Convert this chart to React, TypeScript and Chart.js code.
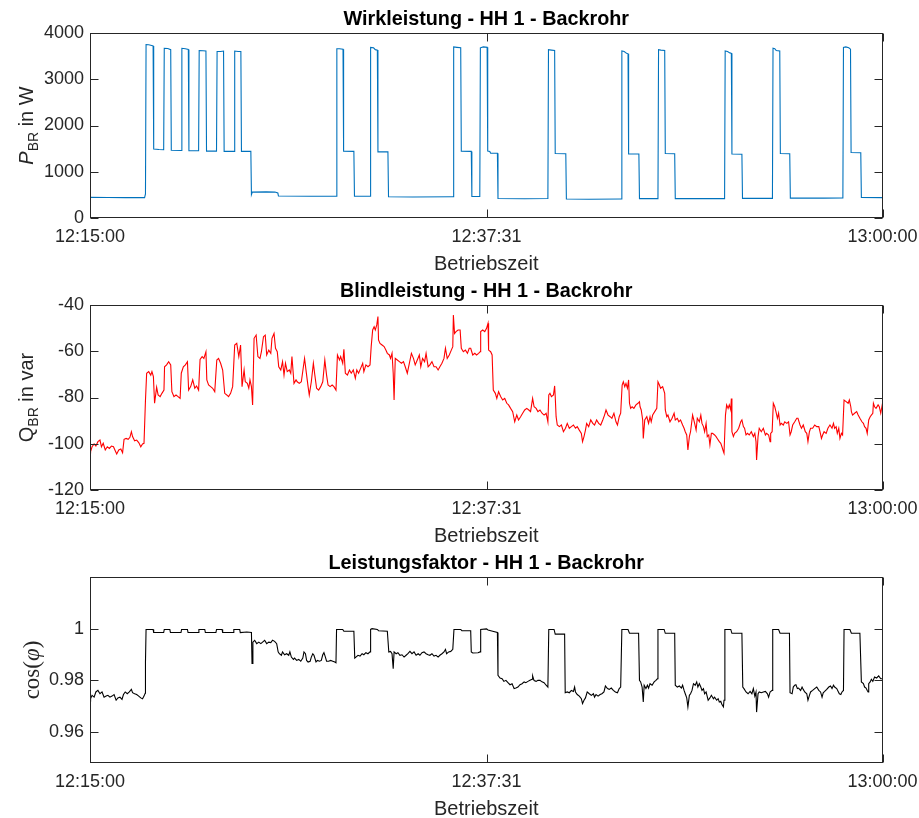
import React, { useEffect, useRef } from "react";
import { Chart, registerables } from "chart.js";

Chart.register(...registerables);

// Time axis: seconds after 12:15:00
const timeTickValues = [0, 1351, 2700];
const timeTickLabels = ["12:15:00", "12:37:31", "13:00:00"];
const xAxisLabel = "Betriebszeit";

const titles = [
  "Wirkleistung - HH 1 - Backrohr",
  "Blindleistung - HH 1 - Backrohr",
  "Leistungsfaktor - HH 1 - Backrohr",
];

const wirkleistungTicks = [0, 1000, 2000, 3000, 4000];
const blindleistungTicks = [-120, -100, -80, -60, -40];
const leistungsfaktorTicks = [0.96, 0.98, 1];

// [seconds, W]
const wirkleistung: [number, number][] = [
  [0, 445], [60, 443], [120, 440], [186, 440], [189, 520], [191, 3750], [200, 3745], [210, 3730], [215, 3720],
  [217, 1490], [235, 1480], [251, 1475], [253, 3670], [265, 3665], [275, 3640], [277, 1465], [311, 1460],
  [313, 3670], [325, 3660], [335, 3645], [337, 1455], [370, 1455], [372, 3620], [385, 3615], [395, 3610],
  [397, 1445], [431, 1445], [433, 3600], [445, 3600], [455, 3610], [457, 1440], [491, 1440], [493, 3610],
  [505, 3600], [514, 3600], [516, 1440], [548, 1440], [550, 505], [553, 560], [600, 565], [630, 560],
  [640, 540], [642, 475], [750, 470], [839, 470], [841, 3660], [850, 3660], [862, 3650], [864, 1445],
  [899, 1440], [901, 470], [954, 470], [956, 3690], [966, 3680], [972, 3640], [979, 3630], [981, 1430],
  [1015, 1430], [1017, 460], [1100, 455], [1237, 460], [1239, 3700], [1250, 3690], [1263, 3680],
  [1265, 1445], [1299, 1440], [1301, 465], [1328, 465], [1330, 3680], [1340, 3700], [1353, 3690],
  [1355, 1450], [1362, 1440], [1365, 1400], [1388, 1400], [1390, 420], [1480, 415], [1560, 420],
  [1562, 3640], [1572, 3630], [1583, 3620], [1585, 1395], [1621, 1390], [1623, 410], [1700, 405],
  [1810, 410], [1812, 3610], [1820, 3600], [1828, 3560], [1833, 3550], [1835, 1385], [1870, 1385],
  [1872, 420], [1935, 420], [1937, 3640], [1945, 3630], [1958, 3620], [1960, 1395], [1992, 1390],
  [1994, 420], [2162, 420], [2164, 3610], [2172, 3600], [2180, 3570], [2185, 3560], [2187, 1385],
  [2221, 1380], [2223, 425], [2325, 425], [2327, 3670], [2333, 3660], [2338, 3620], [2350, 3610],
  [2352, 1395], [2384, 1390], [2386, 430], [2500, 430], [2565, 432], [2567, 3690], [2575, 3700],
  [2585, 3680], [2591, 3650], [2593, 1415], [2626, 1410], [2628, 445], [2700, 440],
];

// [seconds, var]
const blindleistung: [number, number][] = [
  [0, -103], [2, -103.4], [7, -101.3], [14, -100.1], [20, -101.0], [27, -99.1], [34, -98.4], [39, -101.3],
  [45, -99.8], [52, -102.7], [59, -101.3], [66, -102.0], [73, -101.0], [80, -101.3], [86, -103.0],
  [91, -104.4], [98, -102.7], [105, -102.3], [111, -103.9], [116, -98.1], [123, -97.7], [130, -98.1],
  [136, -97.2], [141, -94.8], [145, -96.9], [152, -98.7], [159, -98.4], [166, -99.5], [173, -101.3],
  [179, -100.1], [184, -99.8], [189, -81.1], [193, -69.5], [200, -68.8], [207, -70.3], [211, -68.8],
  [216, -71.0], [220, -82.5], [227, -75.6], [232, -78.9], [239, -79.6], [245, -78.2], [252, -76.8],
  [254, -66.7], [261, -65.9], [268, -64.5], [275, -65.9], [279, -77.5], [286, -79.6], [293, -78.9],
  [300, -79.6], [307, -80.4], [311, -69.5], [318, -66.7], [325, -65.9], [332, -64.5], [336, -76.8],
  [343, -75.3], [350, -72.4], [357, -76.0], [363, -75.0], [370, -76.8], [375, -63.5], [382, -62.3],
  [388, -63.1], [395, -60.2], [398, -72.4], [404, -74.6], [411, -75.3], [418, -76.0], [425, -77.5],
  [432, -63.8], [438, -63.1], [445, -65.2], [452, -68.1], [459, -78.2], [466, -78.9], [472, -79.6],
  [479, -78.2], [486, -75.3], [493, -57.3], [500, -56.6], [507, -62.3], [513, -57.3], [518, -75.3],
  [525, -68.1], [529, -73.2], [536, -73.9], [541, -76.0], [545, -72.4], [550, -75.3], [554, -83.2],
  [559, -54.4], [566, -53.0], [572, -62.3], [579, -63.1], [584, -60.2], [591, -53.7], [597, -53.0],
  [602, -61.6], [609, -59.5], [616, -60.9], [620, -54.4], [627, -52.3], [632, -58.7], [638, -60.2],
  [643, -66.7], [650, -68.1], [656, -64.5], [661, -70.3], [666, -65.2], [672, -68.8], [679, -68.1],
  [684, -69.5], [688, -62.3], [695, -73.9], [702, -72.4], [706, -73.2], [713, -73.9], [720, -73.2],
  [727, -66.7], [731, -63.1], [738, -70.3], [743, -75.3], [747, -78.9], [754, -73.2], [761, -65.2],
  [766, -70.3], [772, -76.0], [779, -76.8], [786, -75.3], [793, -73.2], [800, -63.8], [806, -70.3],
  [811, -74.6], [818, -75.3], [825, -74.6], [831, -75.3], [838, -76.8], [843, -61.6], [850, -63.8],
  [854, -62.3], [861, -65.2], [865, -59.2], [870, -69.5], [877, -70.3], [884, -68.1], [890, -69.5],
  [897, -68.1], [904, -71.7], [909, -68.1], [915, -69.5], [922, -67.4], [929, -65.2], [933, -68.8],
  [940, -65.9], [947, -66.7], [954, -65.9], [958, -58.0], [963, -50.8], [968, -49.4], [972, -50.8],
  [977, -48.6], [981, -45.0], [983, -55.1], [988, -56.6], [995, -57.3], [1002, -58.0], [1008, -59.5],
  [1013, -60.9], [1020, -61.6], [1024, -63.1], [1029, -60.9], [1033, -69.5], [1036, -81.1], [1040, -63.1],
  [1047, -63.8], [1054, -64.5], [1061, -65.2], [1068, -64.5], [1074, -66.7], [1081, -69.5], [1088, -65.2],
  [1095, -60.9], [1102, -63.1], [1108, -65.9], [1115, -63.8], [1122, -61.6], [1127, -66.7], [1133, -63.1],
  [1140, -64.5], [1145, -60.9], [1152, -66.7], [1158, -65.9], [1165, -64.5], [1172, -66.7], [1179, -66.7],
  [1186, -68.1], [1192, -66.7], [1199, -65.2], [1206, -63.1], [1211, -58.7], [1217, -63.1], [1224, -61.6],
  [1231, -59.5], [1236, -58.0], [1238, -44.3], [1242, -52.3], [1247, -51.5], [1254, -50.8], [1261, -50.8],
  [1265, -58.7], [1272, -60.2], [1279, -59.5], [1286, -60.9], [1292, -58.7], [1297, -58.7], [1304, -61.6],
  [1311, -60.9], [1317, -61.6], [1324, -60.9], [1329, -60.2], [1331, -51.5], [1338, -50.8], [1345, -51.5],
  [1351, -50.1], [1356, -47.9], [1358, -59.5], [1365, -60.2], [1370, -61.6], [1374, -76.8], [1381, -78.2],
  [1386, -80.4], [1392, -77.5], [1399, -79.6], [1406, -81.1], [1413, -80.4], [1420, -82.5], [1426, -83.2],
  [1433, -84.7], [1440, -86.1], [1447, -90.5], [1454, -87.6], [1460, -89.7], [1467, -88.3], [1474, -86.8],
  [1481, -85.4], [1488, -84.7], [1495, -85.4], [1501, -86.1], [1508, -80.4], [1513, -84.0], [1520, -84.7],
  [1526, -86.1], [1533, -85.4], [1540, -86.8], [1547, -87.6], [1554, -86.8], [1560, -90.5], [1563, -78.9],
  [1567, -78.2], [1572, -79.6], [1579, -78.9], [1583, -75.0], [1585, -79.6], [1588, -88.3], [1592, -91.9],
  [1599, -92.6], [1606, -91.9], [1613, -94.8], [1620, -93.3], [1626, -91.2], [1633, -93.3], [1640, -92.6],
  [1647, -91.9], [1654, -93.3], [1660, -92.6], [1667, -94.1], [1674, -95.5], [1678, -99.1], [1683, -96.9],
  [1688, -94.1], [1692, -91.2], [1699, -92.6], [1706, -89.7], [1713, -91.2], [1719, -91.9], [1726, -89.7],
  [1733, -91.2], [1740, -91.9], [1747, -89.7], [1753, -87.6], [1758, -85.4], [1765, -87.6], [1772, -88.3],
  [1778, -89.0], [1785, -86.8], [1792, -90.5], [1797, -91.9], [1803, -88.3], [1808, -86.8], [1813, -74.6],
  [1817, -73.2], [1822, -75.3], [1826, -73.9], [1831, -76.0], [1835, -72.4], [1838, -82.5], [1842, -84.7],
  [1847, -84.0], [1853, -84.7], [1860, -83.2], [1867, -82.5], [1872, -81.8], [1874, -84.0], [1878, -85.4],
  [1883, -89.7], [1885, -97.7], [1890, -89.7], [1897, -88.3], [1903, -91.2], [1908, -88.3], [1912, -90.5],
  [1917, -87.6], [1924, -86.1], [1931, -84.7], [1935, -73.2], [1940, -74.6], [1944, -76.0], [1951, -75.3],
  [1958, -78.2], [1960, -85.4], [1965, -88.3], [1969, -87.6], [1976, -90.5], [1983, -89.0], [1990, -86.8],
  [1994, -89.7], [2001, -89.0], [2006, -90.5], [2012, -89.7], [2019, -91.9], [2024, -93.3], [2028, -94.8],
  [2033, -96.2], [2037, -102.7], [2042, -96.9], [2046, -94.8], [2053, -87.6], [2060, -91.2], [2065, -94.1],
  [2069, -89.0], [2076, -90.5], [2081, -87.6], [2085, -91.2], [2090, -92.6], [2094, -94.8], [2099, -91.2],
  [2103, -96.9], [2108, -96.2], [2112, -100.5], [2117, -95.5], [2121, -95.5], [2128, -96.2], [2133, -96.9],
  [2137, -97.7], [2144, -99.1], [2149, -99.8], [2153, -101.3], [2158, -103.4], [2160, -104.1], [2165, -87.6],
  [2169, -83.2], [2174, -84.7], [2178, -83.2], [2183, -85.4], [2185, -80.4], [2187, -94.8], [2192, -96.9],
  [2196, -95.5], [2203, -94.8], [2210, -93.3], [2217, -90.5], [2221, -89.7], [2226, -92.6], [2230, -93.3],
  [2235, -96.2], [2240, -95.5], [2246, -96.2], [2253, -94.8], [2260, -96.9], [2265, -95.5], [2269, -99.1],
  [2271, -107.0], [2276, -96.9], [2280, -93.3], [2287, -94.8], [2294, -93.3], [2301, -96.2], [2305, -95.5],
  [2312, -96.2], [2317, -99.1], [2319, -95.5], [2324, -94.8], [2328, -82.5], [2333, -84.0], [2337, -86.1],
  [2342, -89.0], [2346, -86.8], [2351, -91.9], [2355, -91.2], [2362, -91.9], [2367, -90.5], [2374, -91.2],
  [2380, -90.5], [2385, -96.2], [2389, -94.8], [2394, -91.9], [2401, -90.5], [2408, -89.0], [2412, -89.0],
  [2419, -91.9], [2424, -93.3], [2430, -91.9], [2437, -94.8], [2442, -95.5], [2446, -99.1], [2451, -94.8],
  [2455, -93.3], [2462, -93.3], [2469, -91.9], [2476, -92.6], [2483, -92.6], [2487, -94.8], [2492, -97.7],
  [2496, -96.2], [2501, -94.8], [2508, -95.5], [2514, -93.3], [2521, -91.9], [2528, -93.3], [2533, -91.2],
  [2537, -93.3], [2542, -92.6], [2546, -95.5], [2551, -93.3], [2555, -97.7], [2560, -95.5], [2564, -96.2],
  [2569, -81.1], [2576, -81.8], [2583, -82.5], [2587, -81.1], [2592, -84.0], [2594, -86.1], [2598, -87.6],
  [2605, -86.8], [2612, -86.1], [2617, -87.6], [2623, -89.0], [2630, -90.5], [2635, -91.2], [2639, -92.6],
  [2644, -93.3], [2648, -95.5], [2653, -89.7], [2658, -88.3], [2662, -87.6], [2667, -86.8], [2669, -82.5],
  [2673, -84.0], [2678, -84.7], [2685, -83.2], [2689, -84.0], [2694, -86.8], [2700, -82.5],
];

// [seconds, cos(phi)]
const leistungsfaktor: [number, number][] = [
  [0, 0.9735], [2, 0.9729], [7, 0.9742], [14, 0.9735], [20, 0.9755], [27, 0.9761], [34, 0.9748],
  [41, 0.9755], [48, 0.9735], [55, 0.9739], [61, 0.9742], [68, 0.9735], [75, 0.9739], [82, 0.9745],
  [89, 0.9723], [95, 0.9732], [102, 0.9735], [109, 0.9726], [114, 0.9745], [120, 0.9755], [127, 0.9748],
  [134, 0.9755], [141, 0.9765], [145, 0.9752], [152, 0.9748], [159, 0.9745], [166, 0.9739], [173, 0.9732],
  [179, 0.9729], [184, 0.9739], [188, 0.975], [189, 0.9871], [191, 0.9997], [215, 0.9997], [217, 0.9985],
  [251, 0.9985], [253, 0.9997], [272, 0.9997], [274, 0.9985], [310, 0.9985], [312, 0.9997], [332, 0.9997],
  [334, 0.9985], [369, 0.9985], [371, 0.9997], [391, 0.9997], [393, 0.9985], [429, 0.9985], [431, 0.9997],
  [450, 0.9997], [452, 0.9985], [488, 0.9985], [490, 0.9997], [510, 0.9997], [512, 0.9985], [534, 0.9987],
  [550, 0.9985], [552, 0.9865], [555, 0.9948], [561, 0.9955], [568, 0.9942], [575, 0.9948], [582, 0.9942],
  [588, 0.9948], [595, 0.9955], [602, 0.9942], [609, 0.9948], [616, 0.9946], [622, 0.9955], [629, 0.9951],
  [636, 0.9942], [641, 0.991], [645, 0.9903], [652, 0.9897], [656, 0.991], [663, 0.9899], [670, 0.9903],
  [677, 0.9897], [681, 0.991], [686, 0.989], [693, 0.9881], [697, 0.9886], [704, 0.9877], [711, 0.9881],
  [718, 0.9874], [725, 0.9886], [729, 0.991], [734, 0.9903], [738, 0.9877], [743, 0.9871], [750, 0.9874],
  [754, 0.989], [759, 0.9903], [763, 0.9897], [770, 0.9871], [775, 0.9877], [782, 0.9874], [788, 0.9877],
  [793, 0.9899], [797, 0.9907], [802, 0.989], [806, 0.9874], [813, 0.9874], [820, 0.9877], [827, 0.9874],
  [834, 0.9871], [838, 0.9868], [840, 0.9997], [861, 0.9997], [865, 0.999], [899, 0.999], [902, 0.9886],
  [906, 0.989], [913, 0.9897], [920, 0.9894], [927, 0.9903], [933, 0.9899], [940, 0.9907], [947, 0.9903],
  [954, 0.991], [956, 0.9997], [961, 1.0], [979, 0.9997], [983, 0.9992], [1013, 0.999], [1018, 0.991],
  [1024, 0.9912], [1029, 0.9903], [1033, 0.9845], [1036, 0.991], [1043, 0.9903], [1049, 0.9907],
  [1056, 0.9897], [1063, 0.9899], [1070, 0.989], [1077, 0.9897], [1083, 0.9903], [1090, 0.9912],
  [1097, 0.9903], [1104, 0.991], [1111, 0.9897], [1118, 0.9903], [1124, 0.9897], [1131, 0.9907],
  [1138, 0.991], [1145, 0.9903], [1152, 0.9899], [1158, 0.9897], [1165, 0.9903], [1172, 0.9894],
  [1179, 0.9897], [1186, 0.989], [1192, 0.9897], [1199, 0.9903], [1206, 0.991], [1211, 0.992],
  [1215, 0.9903], [1222, 0.991], [1229, 0.9912], [1236, 0.992], [1240, 0.9997], [1263, 0.9997],
  [1267, 0.9992], [1297, 0.9992], [1299, 0.991], [1304, 0.9906], [1322, 0.9907], [1329, 0.991],
  [1331, 0.9997], [1351, 0.9999], [1356, 0.9995], [1372, 0.999], [1388, 0.9985], [1390, 0.9819],
  [1397, 0.9809], [1404, 0.9806], [1410, 0.9796], [1417, 0.98], [1424, 0.9791], [1431, 0.9783],
  [1438, 0.9787], [1445, 0.9768], [1451, 0.977], [1458, 0.9774], [1465, 0.9783], [1472, 0.9787],
  [1479, 0.9794], [1485, 0.9791], [1492, 0.9796], [1499, 0.98], [1506, 0.9804], [1508, 0.9817],
  [1513, 0.9799], [1520, 0.9796], [1526, 0.98], [1533, 0.98], [1540, 0.9794], [1547, 0.9791],
  [1554, 0.9781], [1560, 0.9774], [1563, 0.9997], [1581, 0.9997], [1585, 0.9979], [1617, 0.9979],
  [1619, 0.9752], [1626, 0.9755], [1633, 0.9752], [1640, 0.9761], [1647, 0.9757], [1651, 0.9774],
  [1654, 0.9755], [1660, 0.9745], [1667, 0.9739], [1674, 0.9729], [1678, 0.971], [1683, 0.9723],
  [1688, 0.9732], [1694, 0.9755], [1701, 0.9748], [1708, 0.9742], [1715, 0.9748], [1719, 0.9735],
  [1724, 0.9745], [1731, 0.9739], [1738, 0.9745], [1744, 0.9748], [1751, 0.9755], [1756, 0.9778],
  [1763, 0.9768], [1769, 0.9765], [1776, 0.977], [1783, 0.9761], [1790, 0.9755], [1797, 0.9752],
  [1803, 0.9768], [1808, 0.9774], [1812, 0.9997], [1833, 0.9997], [1838, 0.9982], [1869, 0.9982],
  [1872, 0.98], [1876, 0.9794], [1881, 0.9774], [1885, 0.9716], [1888, 0.9781], [1894, 0.9768],
  [1899, 0.9781], [1903, 0.977], [1908, 0.9787], [1915, 0.9781], [1922, 0.9794], [1928, 0.98],
  [1933, 0.9806], [1935, 0.9997], [1956, 0.9997], [1960, 0.9982], [1992, 0.9982], [1994, 0.9781],
  [2001, 0.9774], [2008, 0.9778], [2015, 0.977], [2019, 0.9781], [2024, 0.9761], [2028, 0.9748],
  [2033, 0.9732], [2037, 0.9697], [2042, 0.9742], [2046, 0.9748], [2051, 0.9761], [2056, 0.9787],
  [2062, 0.9781], [2067, 0.9794], [2071, 0.9774], [2076, 0.9787], [2081, 0.9774], [2085, 0.9761],
  [2090, 0.9768], [2094, 0.9748], [2099, 0.9755], [2106, 0.9723], [2112, 0.9732], [2117, 0.9742],
  [2124, 0.9729], [2128, 0.9735], [2135, 0.9723], [2140, 0.9729], [2144, 0.9716], [2149, 0.9719],
  [2153, 0.9706], [2158, 0.9697], [2160, 0.9723], [2163, 0.9997], [2183, 0.9997], [2187, 0.9982],
  [2221, 0.9982], [2224, 0.9774], [2228, 0.9768], [2235, 0.9755], [2242, 0.9748], [2249, 0.9757],
  [2255, 0.9748], [2260, 0.9768], [2265, 0.9739], [2269, 0.9755], [2271, 0.9677], [2276, 0.9748],
  [2280, 0.9755], [2287, 0.9752], [2294, 0.9755], [2301, 0.9757], [2308, 0.9748], [2312, 0.9735],
  [2317, 0.9755], [2324, 0.9761], [2326, 0.9997], [2346, 0.9997], [2351, 0.9982], [2383, 0.9982],
  [2385, 0.9752], [2392, 0.9748], [2396, 0.9774], [2401, 0.9781], [2405, 0.9783], [2410, 0.9768],
  [2414, 0.977], [2421, 0.9761], [2426, 0.9774], [2430, 0.9765], [2435, 0.9755], [2442, 0.9748],
  [2446, 0.9723], [2451, 0.9742], [2455, 0.9755], [2462, 0.9761], [2469, 0.9768], [2476, 0.9774],
  [2483, 0.9761], [2489, 0.9755], [2494, 0.9735], [2498, 0.9752], [2503, 0.9757], [2510, 0.9765],
  [2517, 0.9774], [2523, 0.9778], [2528, 0.9768], [2533, 0.9781], [2537, 0.9774], [2544, 0.9768],
  [2549, 0.9757], [2553, 0.9748], [2558, 0.9745], [2562, 0.9755], [2567, 0.9761], [2569, 0.9997],
  [2589, 0.9997], [2594, 0.9982], [2623, 0.9982], [2628, 0.9794], [2635, 0.9787], [2639, 0.9774],
  [2644, 0.977], [2648, 0.9761], [2651, 0.9755], [2653, 0.9787], [2658, 0.9794], [2662, 0.9804],
  [2667, 0.9796], [2673, 0.9813], [2680, 0.9809], [2687, 0.9817], [2694, 0.9806], [2700, 0.9806],
];

const PAGE_W = 919;
const CANVAS_W = 940;
const CANVAS_H = 273;
const AXIS_COLOR = "#262626";
const SANS = '"Liberation Sans", Arial, sans-serif';
const SERIF = '"Liberation Serif", "Times New Roman", serif';

type Seg = { text: string; font: string; dy?: number };

type PanelProps = {
  top: number;
  padTop: number;
  data: [number, number][];
  color: string;
  min: number;
  max: number;
  ticks: number[];
  title: string;
  yLabel: Seg[];
  yLabelX: number;
};

function Panel(props: PanelProps) {
  const ref = useRef<HTMLCanvasElement | null>(null);
  useEffect(() => {
    const canvas = ref.current;
    if (!canvas) return;
    const { padTop, data, color, min, max, ticks, title, yLabel, yLabelX } = props;
    const decor = {
      id: "decor",
      afterDraw(chart: any) {
        const { ctx, chartArea } = chart;
        const xs = chart.scales.x;
        const ys = chart.scales.y;
        const L = Math.round(chartArea.left) + 0.5;
        const R = Math.round(chartArea.right) - 0.5;
        const T = Math.round(chartArea.top) + 0.5;
        const B = Math.round(chartArea.bottom) - 0.5;
        ctx.save();
        ctx.strokeStyle = AXIS_COLOR;
        ctx.lineWidth = 1;
        ctx.strokeRect(L, T, R - L, B - T);
        const tl = 8;
        ctx.beginPath();
        timeTickValues.forEach((v) => {
          const p = Math.round(xs.getPixelForValue(v)) + 0.5;
          ctx.moveTo(p, B);
          ctx.lineTo(p, B - tl);
          ctx.moveTo(p, T);
          ctx.lineTo(p, T + tl);
        });
        ticks.forEach((v) => {
          const p = Math.round(ys.getPixelForValue(v)) + 0.5;
          ctx.moveTo(L, p);
          ctx.lineTo(L + tl, p);
          ctx.moveTo(R, p);
          ctx.lineTo(R - tl, p);
        });
        ctx.stroke();

        const cx = (chartArea.left + chartArea.right) / 2;
        ctx.textAlign = "center";
        ctx.textBaseline = "alphabetic";
        ctx.fillStyle = "#000000";
        ctx.font = `bold 19.8px ${SANS}`;
        ctx.fillText(title, cx, chartArea.top - 8);

        ctx.fillStyle = AXIS_COLOR;
        ctx.font = `20px ${SANS}`;
        ctx.fillText(xAxisLabel, cx, chartArea.bottom + 51.5);

        ctx.textAlign = "left";
        let total = 0;
        yLabel.forEach((s) => {
          ctx.font = s.font;
          total += ctx.measureText(s.text).width;
        });
        ctx.translate(yLabelX, (chartArea.top + chartArea.bottom) / 2);
        ctx.rotate(-Math.PI / 2);
        let x = -total / 2;
        yLabel.forEach((s) => {
          ctx.font = s.font;
          ctx.fillText(s.text, x, s.dy || 0);
          x += ctx.measureText(s.text).width;
        });
        ctx.restore();
      },
    };

    const chart = new Chart(canvas, {
      type: "line",
      data: {
        datasets: [
          {
            data: data.map(([t, v]) => ({ x: t, y: v })),
            borderColor: color,
            borderWidth: 1.1,
            pointRadius: 0,
            tension: 0,
            fill: false,
          },
        ],
      },
      options: {
        responsive: false,
        animation: false,
        devicePixelRatio: 1,
        events: [],
        layout: { padding: { top: padTop, left: 0, right: CANVAS_W - 882.5, bottom: 0 } },
        plugins: {
          legend: { display: false },
          tooltip: { enabled: false },
          title: { display: false },
        },
        scales: {
          x: {
            type: "linear",
            min: 0,
            max: 2700,
            grid: { display: false, drawTicks: false },
            border: { display: false },
            afterBuildTicks: (s: any) => {
              s.ticks = timeTickValues.map((v) => ({ value: v }));
            },
            afterFit: (s: any) => {
              s.height = CANVAS_H - 218;
            },
            ticks: {
              autoSkip: false,
              maxRotation: 0,
              minRotation: 0,
              padding: 8,
              color: AXIS_COLOR,
              font: { family: SANS, size: 18 },
              callback: (_v: any, i: number) => timeTickLabels[i],
            },
          },
          y: {
            type: "linear",
            min,
            max,
            grid: { display: false, drawTicks: false },
            border: { display: false },
            afterBuildTicks: (s: any) => {
              s.ticks = ticks.map((v) => ({ value: v }));
            },
            afterFit: (s: any) => {
              s.width = 90;
            },
            ticks: {
              padding: 6,
              color: AXIS_COLOR,
              font: { family: SANS, size: 18 },
              callback: (v: any) => String(v),
            },
          },
        },
      } as any,
      plugins: [decor],
    });
    return () => chart.destroy();
  }, []);
  return (
    <canvas
      ref={ref}
      width={CANVAS_W}
      height={CANVAS_H}
      style={{ position: "absolute", left: 0, top: props.top, width: CANVAS_W, height: CANVAS_H, display: "block" }}
    />
  );
}

export default function App() {
  return (
    <div style={{ position: "absolute", left: 0, top: 0, width: PAGE_W, height: 818, background: "#ffffff", overflow: "hidden" }}>
      <Panel
        top={0}
        padTop={33}
        data={wirkleistung}
        color="#0072BD"
        min={0}
        max={4000}
        ticks={wirkleistungTicks}
        title={titles[0]}
        yLabel={[
          { text: "P", font: `italic 20px ${SANS}` },
          { text: "BR", font: `14px ${SANS}`, dy: 5 },
          { text: " in W", font: `20px ${SANS}` },
        ]}
        yLabelX={33}
      />
      <Panel
        top={272}
        padTop={33}
        data={blindleistung}
        color="#FF0000"
        min={-120}
        max={-40}
        ticks={blindleistungTicks}
        title={titles[1]}
        yLabel={[
          { text: "Q", font: `20px ${SANS}` },
          { text: "BR", font: `14px ${SANS}`, dy: 5 },
          { text: " in var", font: `20px ${SANS}` },
        ]}
        yLabelX={33}
      />
      <Panel
        top={545}
        padTop={32}
        data={leistungsfaktor}
        color="#000000"
        min={0.948}
        max={1.02}
        ticks={leistungsfaktorTicks}
        title={titles[2]}
        yLabel={[
          { text: "cos", font: `23px ${SERIF}` },
          { text: "(", font: `23px ${SERIF}` },
          { text: "φ", font: `italic 23px ${SERIF}` },
          { text: ")", font: `23px ${SERIF}` },
        ]}
        yLabelX={39}
      />
    </div>
  );
}
